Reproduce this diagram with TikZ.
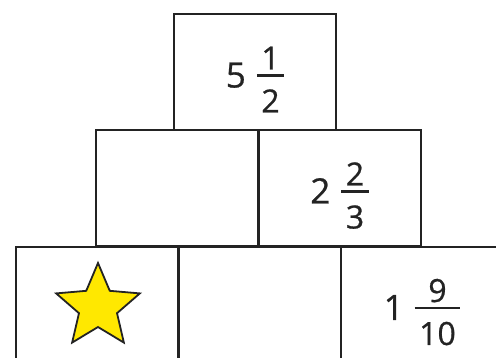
\documentclass[tikz,border=0pt]{standalone}
\usepackage{fontspec}
\setmainfont{Open Sans}
\usetikzlibrary{shapes.geometric}

\definecolor{starYellow}{RGB}{255,232,0}
\definecolor{lineGray}{RGB}{35,35,35}

% whole number, then a stacked fraction with smaller digits;
% the group has no height, its baseline sits 15pt under the cell centre
\newcommand{\mixnum}[3]{\raisebox{-15pt}[0pt][0pt]{%
  \addfontfeatures{FakeBold=0.7}%
  \fontsize{35}{38}\selectfont #1\hspace{11pt}%
  \fontsize{32}{34}\selectfont
  \setbox0\hbox{\kern4.5pt#2\kern4.5pt}\setbox2\hbox{\kern4.5pt#3\kern4.5pt}%
  \dimen0=\ifdim\wd0>\wd2 \wd0\else\wd2\fi
  \rlap{\raisebox{18pt}{\hbox to\dimen0{\hfil#2\hfil}}}%
  \rlap{\raisebox{-25pt}{\hbox to\dimen0{\hfil#3\hfil}}}%
  \rule[10.7pt]{\dimen0}{2.4pt}}}

\begin{document}
\begin{tikzpicture}[x=1pt, y=-1pt, line join=miter,
    cell/.style={draw=lineGray, line width=2pt, minimum width=162pt,
      minimum height=116pt, inner sep=0pt, text=lineGray}]
  \clip (0,0) rectangle (496,358);

  % top row
  \node[cell] (top) at (255,72.5) {\mixnum{5}{1}{2}};

  % middle row
  \node[cell] (midL) at (177,188.5) {};
  \node[cell] (midR) at (339.5,188.5) {\mixnum{2}{2}{3}};

  % bottom row, cut off at the page edge
  \node[cell] (botL) at (96.5,305) {};
  \node[cell] (botM) at (259.5,305) {};
  \node[cell] (botR) at (422,305) {\mixnum{1}{9}{10}};

  % the star
  \node[star, star points=5, star point ratio=2.2, minimum size=88pt,
    inner sep=0pt, fill=starYellow, draw=lineGray, line width=1.8pt]
    (star) at (98,307) {};
\end{tikzpicture}
\end{document}
